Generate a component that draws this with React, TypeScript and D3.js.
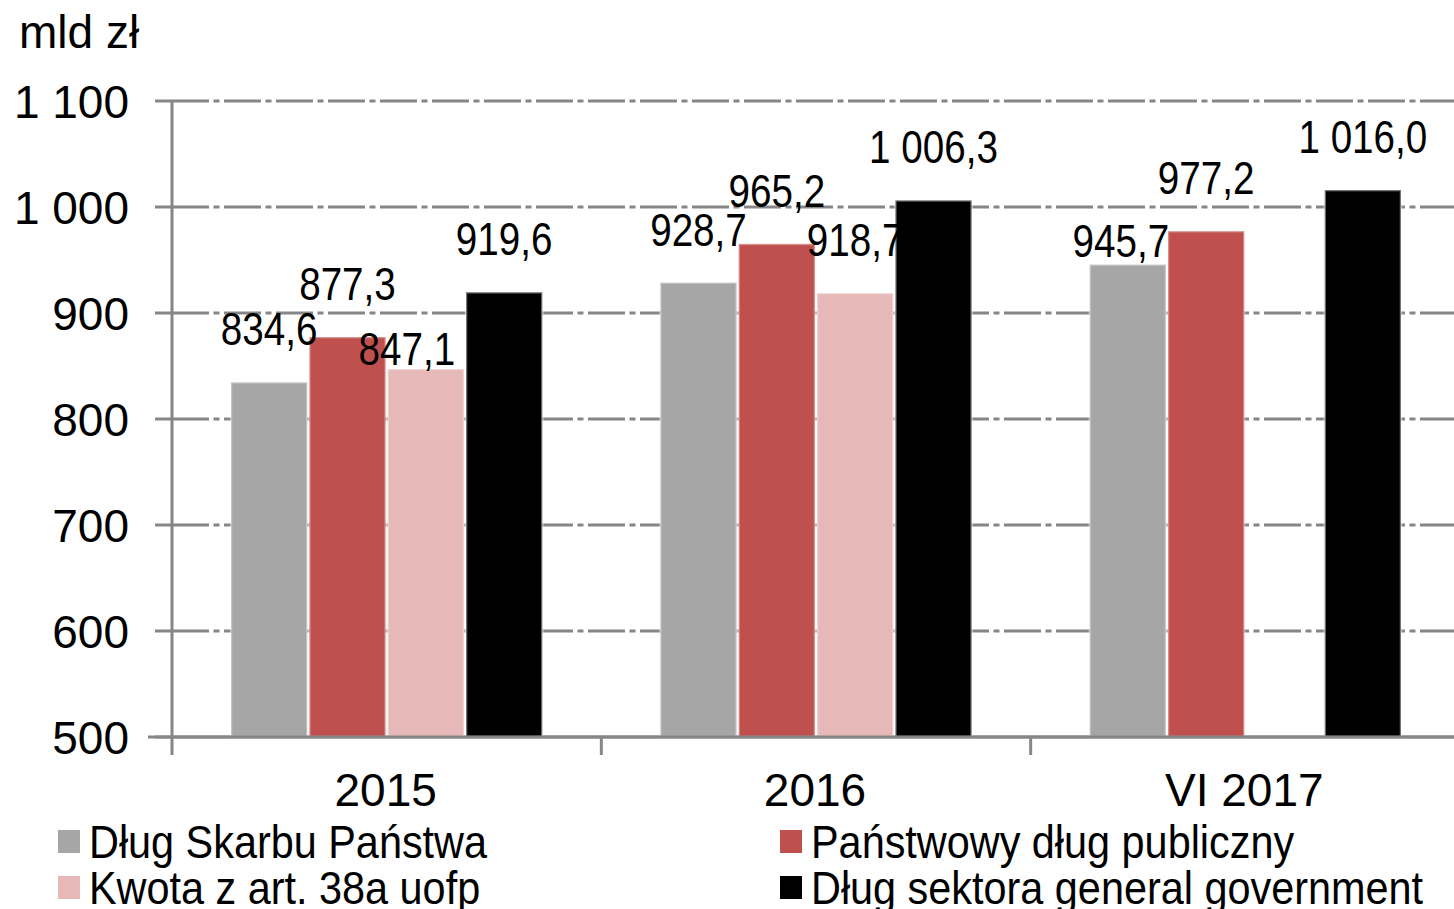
import { useEffect, useRef } from "react";
import * as d3 from "d3";

const categories = ["2015", "2016", "VI 2017"];
const seriesNames = [
  "Dług Skarbu Państwa",
  "Państwowy dług publiczny",
  "Kwota z art. 38a uofp",
  "Dług sektora general government",
];
const seriesColors = ["#A6A6A6", "#C0504D", "#E6B9B8", "#000000"];
const skarbPanstwa = [834.6, 928.7, 945.7];
const dlugPubliczny = [877.3, 965.2, 977.2];
const kwota38a = [847.1, 918.7, null];
const dlugGG = [919.6, 1006.3, 1016.0];
const seriesValues = [skarbPanstwa, dlugPubliczny, kwota38a, dlugGG];
const yTicks = [500, 600, 700, 800, 900, 1000, 1100];

const W = 1454;
const H = 909;
const FONT = "'Liberation Sans', Arial, sans-serif";

// a couple of labels were dragged by hand in the original
const labelNudge: Record<string, [number, number]> = {
  "2-0": [-19, 33],
  "0-2": [-7, 29],
};

// polish number format: space for thousands, comma for decimals
const plFormat = (v: number, dec: number) => {
  const s = v.toFixed(dec).replace(".", ",");
  const [i, f] = s.split(",");
  const ii = i.replace(/\B(?=(\d{3})+(?!\d))/g, " ");
  return f ? `${ii},${f}` : ii;
};

export default function App() {
  const svgRef = useRef<SVGSVGElement>(null);

  useEffect(() => {
    const svg = d3.select(svgRef.current);
    svg.selectAll("*").remove();

    const left = 172;
    const right = 1460;
    const y = d3.scaleLinear().domain([500, 1100]).range([737, 101]);
    const x0 = d3.scaleBand<string>().domain(categories).range([left, right]);
    const x1 = d3
      .scaleBand<number>()
      .domain(d3.range(seriesNames.length))
      .range([0, x0.bandwidth()])
      .paddingInner(0)
      .paddingOuter(0.74);

    const grid = "#868686";

    // gridlines (dash-dot)
    svg
      .append("g")
      .selectAll("line")
      .data(yTicks)
      .join("line")
      .attr("x1", left)
      .attr("x2", W)
      .attr("y1", (d) => y(d))
      .attr("y2", (d) => y(d))
      .attr("stroke", grid)
      .attr("stroke-width", 3)
      .attr("stroke-dasharray", (d) => (d === 500 ? null : "37,4.5,6,4.5"));

    // y tick marks
    svg
      .append("g")
      .selectAll("line")
      .data(yTicks)
      .join("line")
      .attr("x1", 155)
      .attr("x2", left)
      .attr("y1", (d) => y(d))
      .attr("y2", (d) => y(d))
      .attr("stroke", grid)
      .attr("stroke-width", 3);

    // y tick labels
    svg
      .append("g")
      .selectAll("text")
      .data(yTicks)
      .join("text")
      .attr("x", 129)
      .attr("y", (d) => y(d) + 17)
      .attr("text-anchor", "end")
      .attr("font-family", FONT)
      .attr("font-size", 46)
      .attr("fill", "#000")
      .text((d) => plFormat(d, 0));

    // bars
    const groups = svg
      .append("g")
      .selectAll("g")
      .data(categories)
      .join("g")
      .attr("transform", (d) => `translate(${x0(d)},0)`);

    groups.each(function (cat, ci) {
      const g = d3.select(this);
      seriesValues.forEach((vals, si) => {
        const v = vals[ci];
        if (v == null) return;
        const bx = x1(si)!;
        const bw = x1.bandwidth();
        g.append("rect")
          .attr("x", bx + 1)
          .attr("y", y(v))
          .attr("width", bw - 2)
          .attr("height", y(500) - y(v))
          .attr("fill", seriesColors[si])
          .attr("stroke", "#ffffff")
          .attr("stroke-opacity", si === 3 ? 0.45 : 0.35)
          .attr("stroke-width", 2.5);
      });
    });

    // data labels (narrow)
    groups.each(function (cat, ci) {
      const g = d3.select(this);
      seriesValues.forEach((vals, si) => {
        const v = vals[ci];
        if (v == null) return;
        const [dx, dy] = labelNudge[`${si}-${ci}`] || [0, 0];
        const cx = x1(si)! + x1.bandwidth() / 2 + dx;
        g.append("text")
          .attr(
            "transform",
            `translate(${cx},${y(v) - 37 + dy}) scale(0.84,1)`
          )
          .attr("text-anchor", "middle")
          .attr("font-family", FONT)
          .attr("font-size", 46)
          .attr("fill", "#000")
          .text(plFormat(v, 1));
      });
    });

    // axes lines
    svg
      .append("line")
      .attr("x1", 148)
      .attr("x2", W)
      .attr("y1", y(500))
      .attr("y2", y(500))
      .attr("stroke", grid)
      .attr("stroke-width", 3);
    svg
      .append("line")
      .attr("x1", left)
      .attr("x2", left)
      .attr("y1", y(1100) - 1)
      .attr("y2", y(500) + 18)
      .attr("stroke", grid)
      .attr("stroke-width", 3);

    // x ticks between categories
    svg
      .append("g")
      .selectAll("line")
      .data(categories.slice(1))
      .join("line")
      .attr("x1", (d) => x0(d)!)
      .attr("x2", (d) => x0(d)!)
      .attr("y1", y(500))
      .attr("y2", y(500) + 18)
      .attr("stroke", grid)
      .attr("stroke-width", 3);

    // x labels
    svg
      .append("g")
      .selectAll("text")
      .data(categories)
      .join("text")
      .attr("x", (d) => x0(d)! + x0.bandwidth() / 2 - 1)
      .attr("y", 806)
      .attr("text-anchor", "middle")
      .attr("font-family", FONT)
      .attr("font-size", 46)
      .attr("fill", "#000")
      .text((d) => d);

    // unit label
    svg
      .append("text")
      .attr("x", 19)
      .attr("y", 48)
      .attr("font-family", FONT)
      .attr("font-size", 46)
      .attr("fill", "#000")
      .text("mld zł");

    // legend, 2 columns x 2 rows
    const legendPos = [
      { x: 58, y: 830 },
      { x: 780, y: 830 },
      { x: 58, y: 876 },
      { x: 780, y: 876 },
    ];
    seriesNames.forEach((name, i) => {
      const p = legendPos[i];
      svg
        .append("rect")
        .attr("x", p.x)
        .attr("y", p.y)
        .attr("width", 22)
        .attr("height", 23)
        .attr("fill", seriesColors[i]);
      svg
        .append("text")
        .attr("transform", `translate(${p.x + 31},${p.y + 28}) scale(0.9,1)`)
        .attr("font-family", FONT)
        .attr("font-size", 46)
        .attr("fill", "#000")
        .text(name);
    });
  }, []);

  return (
    <svg
      ref={svgRef}
      width={W}
      height={H}
      style={{ position: "absolute", left: 0, top: 0, background: "#fff" }}
    />
  );
}
